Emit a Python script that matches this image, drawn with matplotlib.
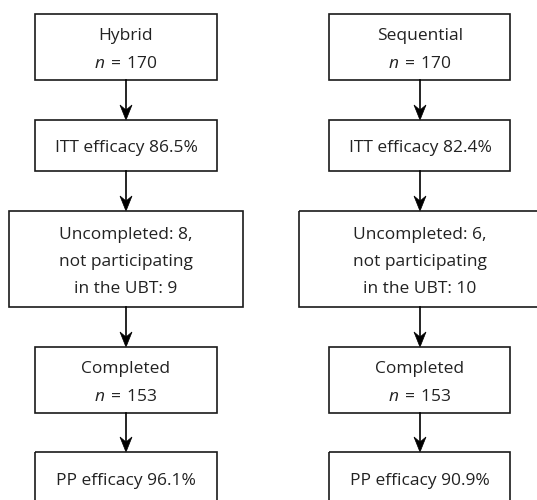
import matplotlib.pyplot as plt
from matplotlib.patches import Rectangle, Polygon

plt.rcParams['font.family'] = ['Open Sans', 'DejaVu Sans']
plt.rcParams['mathtext.fontset'] = 'custom'
plt.rcParams['mathtext.it'] = 'Open Sans:italic'
plt.rcParams['mathtext.rm'] = 'Open Sans'

# Box texts for each arm
hybrid_labels = [
    ["Hybrid", r"$n\:=\:170$"],
    ["ITT efficacy 86.5%"],
    ["Uncompleted: 8,", "not participating", "in the UBT: 9"],
    ["Completed", r"$n\:=\:153$"],
    ["PP efficacy 96.1%"],
]
sequential_labels = [
    ["Sequential", r"$n\:=\:170$"],
    ["ITT efficacy 82.4%"],
    ["Uncompleted: 6,", "not participating", "in the UBT: 10"],
    ["Completed", r"$n\:=\:153$"],
    ["PP efficacy 90.9%"],
]

# layout in pixels (y downwards)
box_tops = [14, 120, 211, 347, 452]
box_bottoms = [80, 171, 307, 413, 504]
left_x = [(35, 217), (35, 217), (9, 243), (35, 217), (35, 217)]
right_x = [(329, 510), (329, 510), (299, 541), (329, 510), (329, 510)]

fig = plt.figure(figsize=(5.37, 5.0), dpi=100)
ax = fig.add_axes([0, 0, 1, 1])
ax.set_xlim(0, 537)
ax.set_ylim(500, 0)
ax.axis('off')


def draw_column(labels, xs, cx):
    for i, lines in enumerate(labels):
        x0, x1 = xs[i]
        top, bot = box_tops[i], box_bottoms[i]
        ax.add_patch(Rectangle((x0, top), x1 - x0, bot - top, fill=False,
                               edgecolor='#1a1a1a', lw=1.2))
        cy = (top + bot) / 2
        if i == 4:
            cy = 478
        n = len(lines)
        for j, line in enumerate(lines):
            y = cy + 7 + (j - (n - 1) / 2) * 27.3
            ax.text(cx, y, line, ha='center', va='baseline',
                    fontsize=12.5, color='#222222')
        if i < len(labels) - 1:
            nxt = box_tops[i + 1]
            ax.plot([cx, cx], [bot, nxt - 8], color='black', lw=1.2)
            ax.add_patch(Polygon([(cx, nxt), (cx - 6, nxt - 15), (cx, nxt - 10),
                                  (cx + 6, nxt - 15)], closed=True,
                                 facecolor='black', edgecolor='black', lw=0.5))


draw_column(hybrid_labels, left_x, 126)
draw_column(sequential_labels, right_x, 420)

fig.savefig('out.png', dpi=100)
